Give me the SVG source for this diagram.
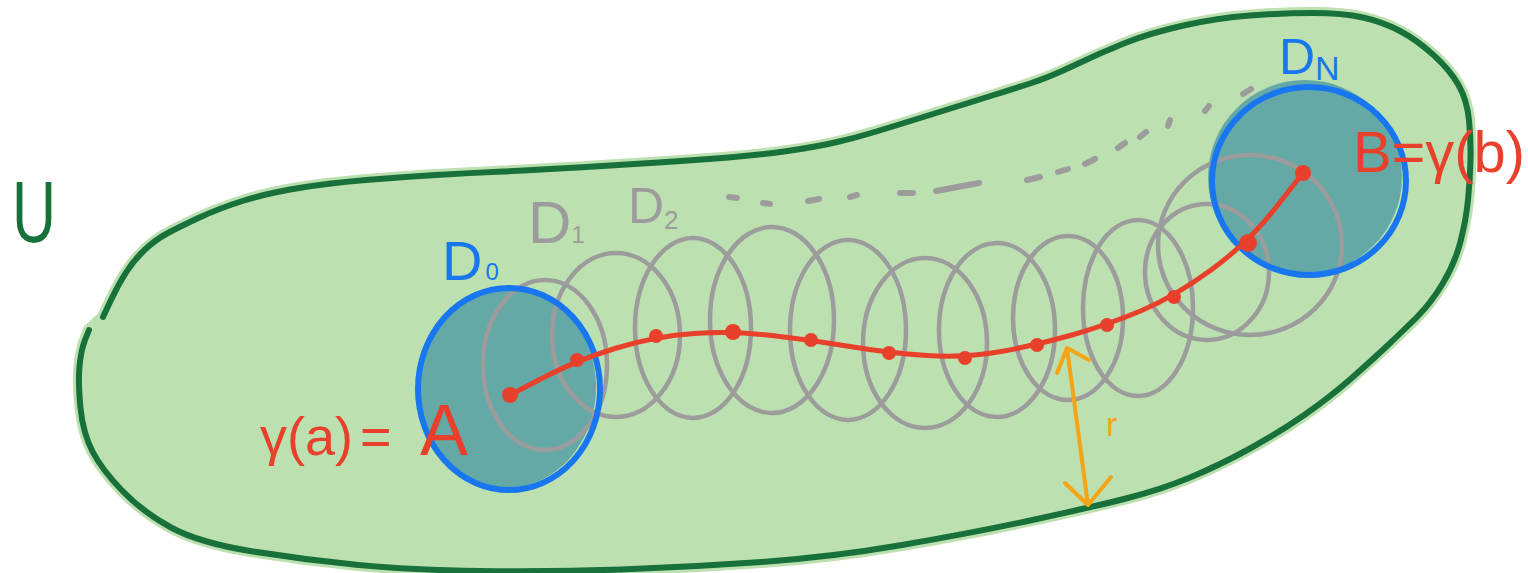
<svg xmlns="http://www.w3.org/2000/svg" width="1528" height="573" viewBox="0 0 1528 573">
<defs>
<style>
.lbl{font-family:"Liberation Sans","DejaVu Sans",sans-serif;}
.gray{fill:none;stroke:#9c9c9c;stroke-width:4.5;}
.dash{stroke:#9c9c9c;stroke-width:6;stroke-linecap:round;fill:none;}
.teal{fill:#65a9a7;}
.blue{fill:none;stroke:#1877f0;stroke-width:6;}
.red{fill:none;stroke:#e8402a;stroke-width:5;stroke-linecap:round;stroke-linejoin:round;}
.dot{fill:#e8402a;}
.orange{fill:none;stroke:#f5a416;stroke-width:4;stroke-linecap:round;stroke-linejoin:round;}
</style>
</defs>
<rect width="1528" height="573" fill="#ffffff"/>

<g id="region-U">
<path d="M 103 317 L 110.5 301 Q 118 285 126 272.5 Q 134 260 144.5 250 Q 155 240 167 233.5 Q 179 227 199.5 217.5 Q 220 208 244 200.5 Q 268 193 299 188 Q 330 183 366 180 Q 402 177 436 175 Q 470 173 503 171.5 Q 536 170 578 167.5 Q 620 165 658.5 162.5 Q 697 160 728.5 157.5 Q 760 155 787.5 151 Q 815 147 835 142.5 Q 855 138 873 132.5 Q 891 127 910.5 121 Q 930 115 949 109 Q 968 103 989 96.5 Q 1010 90 1030 83.5 Q 1050 77 1075 65 Q 1100 53 1125 43 Q 1150 33 1183.5 25.5 Q 1217 18 1250 15.5 Q 1283 13 1313 13 Q 1343 13 1363 17.5 Q 1383 22 1400 31 Q 1417 40 1433.5 55 Q 1450 70 1458.5 85 Q 1467 100 1469 120 Q 1471 140 1470.5 160 Q 1470 180 1468 200 Q 1466 220 1460.5 241.5 Q 1455 263 1443 283 Q 1431 303 1417.5 316.5 Q 1404 330 1387 346 Q 1370 362 1350 379.5 Q 1330 397 1305 414.5 Q 1280 432 1250 448.5 Q 1220 465 1190 477.5 Q 1160 490 1124 499 Q 1088 508 1030 520.5 Q 972 533 902 545 Q 832 557 761.5 562 Q 691 567 621 569.5 Q 551 572 481 571 Q 411 570 358.5 565 Q 306 560 253 551.5 Q 200 543 172 528 Q 144 513 123 491.5 Q 102 470 92.5 451.5 Q 83 433 80.5 408 Q 78 383 79.5 366.5 Q 81 350 85 340 L 89 330 Z" fill="#bce0b0" stroke="#bce0b0" stroke-width="12" stroke-linejoin="round"/>
<path d="M 103 317 L 110.5 301 Q 118 285 126 272.5 Q 134 260 144.5 250 Q 155 240 167 233.5 Q 179 227 199.5 217.5 Q 220 208 244 200.5 Q 268 193 299 188 Q 330 183 366 180 Q 402 177 436 175 Q 470 173 503 171.5 Q 536 170 578 167.5 Q 620 165 658.5 162.5 Q 697 160 728.5 157.5 Q 760 155 787.5 151 Q 815 147 835 142.5 Q 855 138 873 132.5 Q 891 127 910.5 121 Q 930 115 949 109 Q 968 103 989 96.5 Q 1010 90 1030 83.5 Q 1050 77 1075 65 Q 1100 53 1125 43 Q 1150 33 1183.5 25.5 Q 1217 18 1250 15.5 Q 1283 13 1313 13 Q 1343 13 1363 17.5 Q 1383 22 1400 31 Q 1417 40 1433.5 55 Q 1450 70 1458.5 85 Q 1467 100 1469 120 Q 1471 140 1470.5 160 Q 1470 180 1468 200 Q 1466 220 1460.5 241.5 Q 1455 263 1443 283 Q 1431 303 1417.5 316.5 Q 1404 330 1387 346 Q 1370 362 1350 379.5 Q 1330 397 1305 414.5 Q 1280 432 1250 448.5 Q 1220 465 1190 477.5 Q 1160 490 1124 499 Q 1088 508 1030 520.5 Q 972 533 902 545 Q 832 557 761.5 562 Q 691 567 621 569.5 Q 551 572 481 571 Q 411 570 358.5 565 Q 306 560 253 551.5 Q 200 543 172 528 Q 144 513 123 491.5 Q 102 470 92.5 451.5 Q 83 433 80.5 408 Q 78 383 79.5 366.5 Q 81 350 85 340 L 89 330" fill="none" stroke="#18703a" stroke-width="6" stroke-linecap="round" stroke-linejoin="round"/>
<text class="lbl" x="12" y="242" font-size="88" fill="#18703a" textLength="44" lengthAdjust="spacingAndGlyphs">U</text>
</g>

<g id="disc-fills">
<ellipse class="teal" cx="506" cy="387" rx="90" ry="101"/>
<ellipse class="teal" cx="1305" cy="177" rx="97" ry="97"/>
</g>

<g id="chain">
<ellipse class="gray" cx="545" cy="365" rx="62" ry="85"/>
<ellipse class="gray" cx="616" cy="335" rx="64" ry="82"/>
<ellipse class="gray" cx="693" cy="328" rx="58" ry="90"/>
<ellipse class="gray" cx="772" cy="320" rx="62" ry="93"/>
<ellipse class="gray" cx="848" cy="330" rx="58" ry="90"/>
<ellipse class="gray" cx="925" cy="343" rx="62" ry="85"/>
<ellipse class="gray" cx="997" cy="330" rx="58" ry="87"/>
<ellipse class="gray" cx="1068" cy="318" rx="55" ry="82"/>
<ellipse class="gray" cx="1138" cy="308" rx="55" ry="88"/>
<ellipse class="gray" cx="1207" cy="272" rx="62" ry="68"/>
<ellipse class="gray" cx="1250" cy="245" rx="92" ry="90"/>
</g>

<g id="dots-ellipsis">
<path class="dash" d="M729 197 L737 198 M763 203 L770 204 M808 201 L819 199 M850 197 L857 195 M900 193 L913 193 M936 191 L979 183 M1027 180 L1040 177 M1058 172 L1068 169 M1085 164 L1095 159 M1118 148 L1125 143 M1140 137 L1146 132 M1168 126 L1170 120 M1205 111 L1209 106 M1243 94 L1251 89"/>
</g>

<g id="disc-D0">
<ellipse class="blue" cx="509" cy="389" rx="91" ry="101"/>
<text class="lbl" x="442" y="280" font-size="56" fill="#1877f0">D<tspan font-size="24" dx="3">0</tspan></text>
</g>

<g id="disc-DN">
<ellipse class="blue" cx="1309" cy="181" rx="97" ry="94"/>
<text class="lbl" x="1279" y="74" font-size="50" fill="#1877f0">D<tspan font-size="34" dy="6">N</tspan></text>
</g>

<g id="labels-chain">
<text class="lbl" x="528" y="243" font-size="60" fill="#9c9c9c">D<tspan font-size="24">1</tspan></text>
<text class="lbl" x="628" y="223" font-size="50" fill="#9c9c9c">D<tspan font-size="26" dy="6">2</tspan></text>
</g>

<g id="curve-gamma">
<path class="red" d="M 510 395 L 543.5 377.5 Q 577 360 616.5 348 Q 656 336 694.5 333.5 Q 733 331 772 335.5 Q 811 340 850 346.5 Q 889 353 927 355.5 Q 965 358 1001 351.5 Q 1037 345 1072 335 Q 1107 325 1140.5 311 Q 1174 297 1211 270 Q 1248 243 1275.5 208 L 1303 173"/>
<circle class="dot" cx="510" cy="395" r="8"/>
<circle class="dot" cx="577" cy="360" r="7"/>
<circle class="dot" cx="656" cy="336" r="7"/>
<circle class="dot" cx="733" cy="332" r="8"/>
<circle class="dot" cx="811" cy="340" r="7"/>
<circle class="dot" cx="889" cy="353" r="7"/>
<circle class="dot" cx="965" cy="358" r="7"/>
<circle class="dot" cx="1037" cy="345" r="7"/>
<circle class="dot" cx="1107" cy="325" r="7"/>
<circle class="dot" cx="1174" cy="297" r="7"/>
<circle class="dot" cx="1248" cy="243" r="9"/>
<circle class="dot" cx="1303" cy="173" r="8"/>
<text class="lbl" x="1353" y="172" font-size="58" fill="#e8402a" textLength="172" lengthAdjust="spacingAndGlyphs">B=γ(b)</text>
<text class="lbl" y="455" font-size="54" fill="#e8402a"><tspan x="260">γ(a)</tspan><tspan x="360">=</tspan><tspan x="420" font-size="72">A</tspan></text>
</g>

<g id="radius-r">
<path class="orange" d="M1067 348 L1088 505 M1057 373 L1067 348 L1089 360 M1065 483 L1088 505 L1111 477"/>
<text class="lbl" x="1106" y="436" font-size="34" fill="#f5a416">r</text>
</g>
</svg>
